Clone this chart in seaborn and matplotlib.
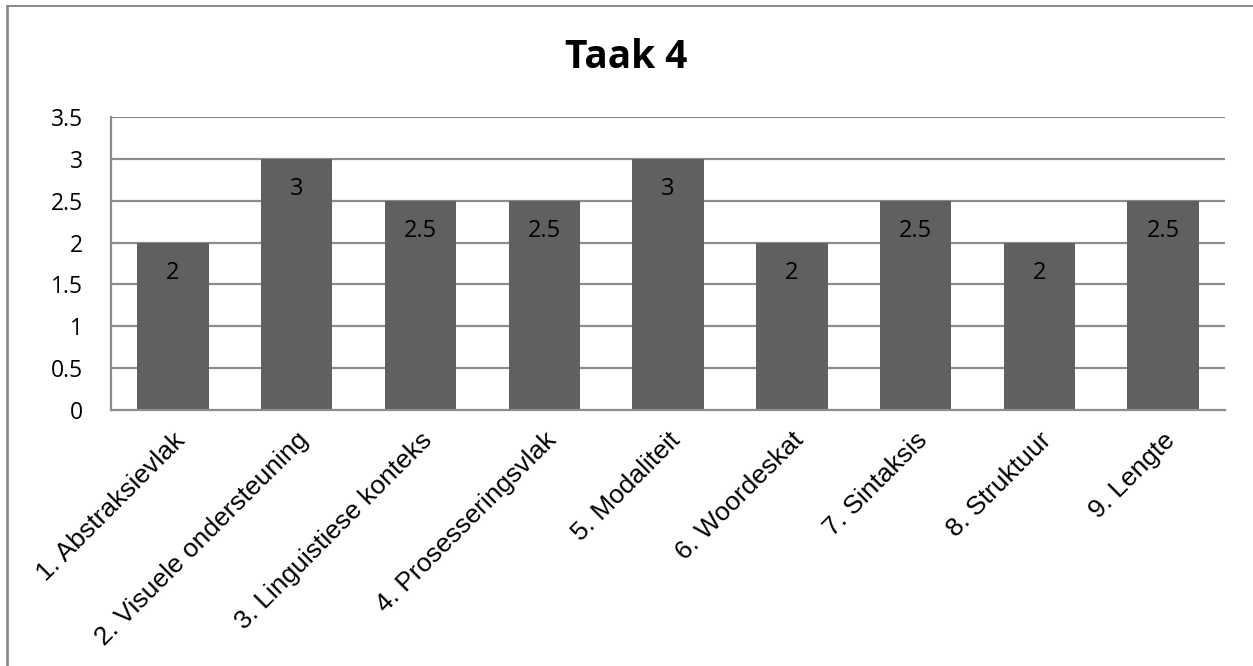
import matplotlib
matplotlib.use("Agg")
import matplotlib.pyplot as plt
import seaborn as sns
import pandas as pd
from matplotlib.lines import Line2D

categories = [
    "1. Abstraksievlak",
    "2. Visuele ondersteuning",
    "3. Linguistiese konteks",
    "4. Prosesseringsvlak",
    "5. Modaliteit",
    "6. Woordeskat",
    "7. Sintaksis",
    "8. Struktuur",
    "9. Lengte",
]
scores = [2, 3, 2.5, 2.5, 3, 2, 2.5, 2, 2.5]
y_ticks = [0, 0.5, 1, 1.5, 2, 2.5, 3, 3.5]
y_tick_labels = ["0", "0.5", "1", "1.5", "2", "2.5", "3", "3.5"]
title = "Taak 4"

df = pd.DataFrame({"kategorie": categories, "telling": scores})

sns.set_theme(style="white")
plt.rcParams["font.family"] = ["Open Sans", "DejaVu Sans"]

fig = plt.figure(figsize=(12.53, 6.66), dpi=100)
ax = fig.add_axes([0.0886, 0.3844, 0.8891, 0.4399])

grid_col = "#8c8c8c"
bar_col = "#606060"

ax.set_axisbelow(True)
for t in y_ticks[1:]:
    ax.axhline(t, color=grid_col, lw=1.6, zorder=0)

sns.barplot(data=df, x="kategorie", y="telling", color=bar_col,
            width=0.577, saturation=1, ax=ax, zorder=2,
            edgecolor=bar_col, linewidth=0)

ax.set_ylim(0, 3.5)
ax.set_xlim(-0.5, len(categories) - 0.5)
ax.set_yticks(y_ticks)
ax.set_yticklabels(y_tick_labels, fontsize=16.5, color="black")
ax.tick_params(axis="y", length=0, pad=20)
ax.tick_params(axis="x", length=0, pad=13)
ax.set_xticks(range(len(categories)))
ax.set_xticklabels(categories, rotation=45, ha="right", rotation_mode="anchor",
                   fontsize=19, family="Liberation Sans", color="black")
ax.set_xlabel("")
ax.set_ylabel("")

for side in ["top", "right"]:
    ax.spines[side].set_visible(False)
for side in ["left", "bottom"]:
    ax.spines[side].set_color(grid_col)
    ax.spines[side].set_linewidth(1.6)

for i, v in enumerate(scores):
    ax.annotate(f"{v:g}", xy=(i, v), xytext=(0, -22), textcoords="offset points",
                ha="center", va="center", fontsize=17, color="black", zorder=3)

fig.text(0.5, 0.914, title, ha="center", va="center", fontsize=28,
         fontweight="bold", color="black")

# outer chart frame (left and top edges)
fig.add_artist(Line2D([6.5 / 1253, 6.5 / 1253], [0, 1 - 5.5 / 666],
                      transform=fig.transFigure, color="#8c8c8c", lw=2))
fig.add_artist(Line2D([6.5 / 1253, 1], [1 - 5.5 / 666, 1 - 5.5 / 666],
                      transform=fig.transFigure, color="#8c8c8c", lw=1.5))

fig.savefig("out.png", dpi=100, facecolor="white")
